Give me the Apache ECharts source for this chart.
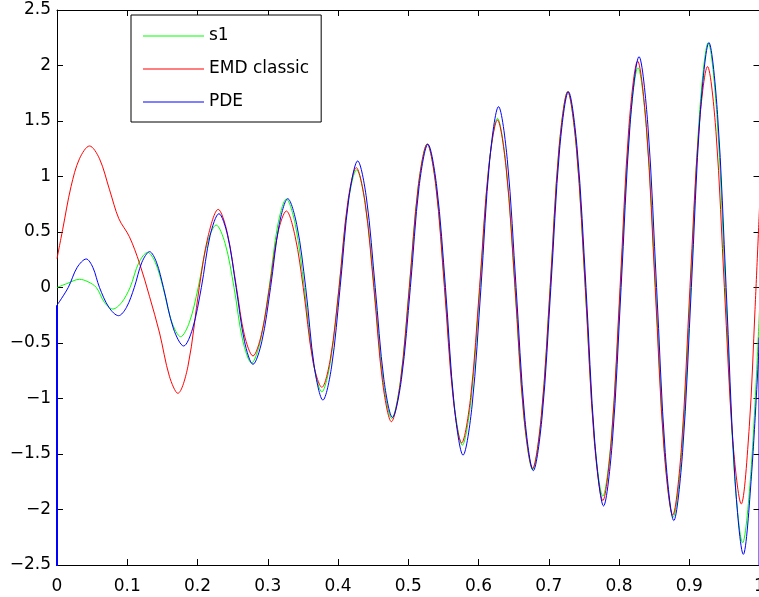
<!DOCTYPE html>
<html><head><meta charset="utf-8">
<script src="https://cdn.jsdelivr.net/npm/echarts@6/dist/echarts.min.js"></script>
<style>html,body{margin:0;padding:0;background:#fff;}#c{width:759px;height:597px;}</style>
</head><body><div id="c"></div>
<script>
// ---- data (extrema, zero crossings and shoulder points) ----
const s1X = [0,0.014,0.032,0.044,0.056,0.0678,0.0795,0.0918,0.104,0.1165,0.129,0.140,0.151,0.1635,0.176,0.1885,
  0.201,0.2138,0.2265,0.2393,0.252,0.2645,0.277,0.2895,0.302,0.3143,0.3265,0.3393,0.352,0.3645,0.377,0.3893,
  0.4015,0.414,0.4265,0.439,0.4515,0.464,0.4765,0.489,0.5015,0.5143,0.527,0.5395,0.552,0.5645,0.577,0.5895,
  0.602,0.6145,0.627,0.6395,0.652,0.6645,0.677,0.6895,0.702,0.7145,0.727,0.7395,0.752,0.7645,0.777,0.7895,
  0.802,0.8145,0.827,0.8395,0.852,0.8645,0.877,0.8895,0.902,0.9145,0.927,0.9393,0.9515,0.9638,0.976,0.988,1];
const s1Y = [0,0.035,0.074,0.052,0,-0.137,-0.194,-0.137,0,0.224,0.317,0.224,0,-0.313,-0.443,-0.313,
  0,0.398,0.563,0.398,0,-0.481,-0.68,-0.481,0,0.564,0.797,0.564,0,-0.665,-0.94,-0.665,
  0,0.749,1.06,0.749,0,-0.834,-1.18,-0.834,0,0.914,1.293,0.914,0,-1.004,-1.42,-1.004,
  0,1.078,1.524,1.078,0,-1.16,-1.64,-1.16,0,1.247,1.764,1.247,0,-1.329,-1.88,-1.329,
  0,1.40,1.98,1.40,0,-1.464,-2.07,-1.464,0,1.56,2.206,1.56,0,-1.626,-2.30,-1.64,-0.2];

const emdX = [0,0.008,0.020,0.032,0.0463,0.0605,0.0748,0.088,0.103,0.1175,0.1318,0.146,0.160,0.172,0.1864,0.2025,
  0.2151,0.2295,0.2419,0.2555,0.2667,0.279,0.2909,0.3025,0.3146,0.3265,0.3391,0.3505,0.3644,0.377,0.3893,0.4015,
  0.4138,0.426,0.4385,0.451,0.4635,0.476,0.4888,0.5015,0.5143,0.527,0.5393,0.5515,0.5638,0.576,0.5888,0.6015,
  0.6143,0.627,0.6395,0.652,0.6645,0.677,0.6895,0.702,0.7145,0.727,0.7395,0.752,0.7645,0.777,0.7893,0.8015,
  0.814,0.8265,0.839,0.8515,0.864,0.8765,0.8888,0.901,0.9135,0.926,0.938,0.950,0.962,0.974,0.9855,0.9936,1];
const emdY = [0.26,0.52,0.91,1.16,1.275,1.16,0.88,0.62,0.458,0.218,-0.083,-0.41,-0.80,-0.953,-0.71,0,
  0.462,0.704,0.507,0,-0.427,-0.617,-0.426,0,0.498,0.689,0.456,0,-0.666,-0.899,-0.636,0,
  0.764,1.08,0.764,0,-0.855,-1.209,-0.855,0,0.914,1.293,0.914,0,-0.99,-1.40,-0.99,0,
  1.067,1.509,1.067,0,-1.152,-1.63,-1.152,0,1.247,1.764,1.247,0,-1.357,-1.92,-1.357,0,
  1.442,2.04,1.442,0,-1.449,-2.05,-1.449,0,1.407,1.99,1.407,0,-1.379,-1.95,-1.25,-0.2,0.72];

const pdeX = [0,0.016,0.0288,0.0416,0.051,0.0605,0.074,0.0876,0.0988,0.110,0.1209,0.1318,0.1416,0.1515,0.1659,0.1803,
  0.1929,0.2055,0.218,0.2305,0.2428,0.255,0.267,0.279,0.2915,0.304,0.3163,0.3285,0.3413,0.354,0.3663,0.3785,
  0.3908,0.403,0.4155,0.428,0.4405,0.453,0.4653,0.4775,0.4903,0.503,0.5155,0.528,0.5405,0.553,0.5655,0.578,
  0.5908,0.6035,0.616,0.6285,0.641,0.6535,0.6658,0.678,0.6905,0.703,0.7155,0.728,0.7405,0.753,0.7655,0.778,
  0.7905,0.803,0.8158,0.8285,0.841,0.8535,0.8658,0.878,0.8905,0.903,0.9155,0.928,0.9403,0.9525,0.9648,0.977,0.9885,1];
const pdeY = [-0.16,0,0.182,0.257,0.182,0,-0.18,-0.254,-0.18,0,0.228,0.323,0.228,0,-0.373,-0.527,
  -0.373,0,0.47,0.665,0.47,0,-0.489,-0.692,-0.489,0,0.566,0.80,0.566,0,-0.717,-1.014,
  -0.717,0,0.806,1.14,0.806,0,-0.827,-1.17,-0.827,0,0.912,1.29,0.912,0,-1.068,-1.51,
  -1.068,0,1.152,1.629,1.152,0,-1.167,-1.65,-1.167,0,1.247,1.764,1.247,0,-1.391,-1.968,
  -1.391,0,1.471,2.08,1.471,0,-1.485,-2.10,-1.485,0,1.56,2.206,1.56,0,-1.70,-2.404,-1.70,-0.45];

// PDE's first and last samples fall far below the visible range
const pdeOffScale = -3;

const seriesNames = ['s1', 'EMD classic', 'PDE'];
const seriesColors = ['#00ff00', '#ff0000', '#0000ff'];
const xTickLabels = ['0','0.1','0.2','0.3','0.4','0.5','0.6','0.7','0.8','0.9','1'];
const yTickLabels = ['\u22122.5','\u22122','\u22121.5','\u22121','\u22120.5','0','0.5','1','1.5','2','2.5'];

// ---- chart ----
const FONT = 'DejaVu Sans';
const pairs = (xv, yv) => xv.map((x, i) => [x, yv[i]]);

const axisLineStyle = { show: true, onZero: false, lineStyle: { color: '#000', width: 1 } };
const tickStyle = { show: true, inside: true, length: 6, lineStyle: { color: '#000', width: 1 } };
const labelFont = { fontFamily: FONT, fontSize: 17, color: '#000' };

function xAxisDef(pos, showLabel) {
  return {
    type: 'value', position: pos, min: 0, max: 1, interval: 0.1,
    axisLine: axisLineStyle, axisTick: tickStyle, splitLine: { show: false },
    axisLabel: Object.assign({ show: showLabel, margin: 13,
      formatter: v => xTickLabels[Math.round(v * 10)] }, labelFont)
  };
}
function yAxisDef(pos, showLabel) {
  return {
    type: 'value', position: pos, min: -2.5, max: 2.5, interval: 0.5,
    axisLine: axisLineStyle, axisTick: tickStyle, splitLine: { show: false },
    axisLabel: Object.assign({ show: showLabel, margin: 6, padding: [5, 0, 0, 0],
      formatter: v => yTickLabels[Math.round((v + 2.5) * 2)] }, labelFont)
  };
}

function lineSeries(name, xv, yv, color) {
  return {
    name: name, type: 'line', data: pairs(xv, yv), smooth: 0.333,
    symbol: 'none', showSymbol: false,
    lineStyle: { color: color, width: 1 }, itemStyle: { color: color },
    xAxisIndex: 0, yAxisIndex: 0
  };
}

const lastPde = pdeX.length - 1;
const chart = echarts.init(document.getElementById('c'), null, { renderer: 'canvas' });
chart.setOption({
  animation: false,
  backgroundColor: '#fff',
  grid: { left: 57, top: 10, width: 702.5, height: 555, containLabel: false, outerBoundsMode: 'none' },
  xAxis: [xAxisDef('bottom', true), xAxisDef('top', false)],
  yAxis: [yAxisDef('left', true), yAxisDef('right', false)],
  legend: {
    data: seriesNames, orient: 'vertical', left: 131, top: 15,
    icon: 'rect',
    padding: [11, 12, 10, 12], itemGap: 13, itemWidth: 61, itemHeight: 1,
    borderColor: '#000', borderWidth: 1, backgroundColor: '#fff',
    selectedMode: false,
    textStyle: { fontFamily: FONT, fontSize: 17, color: '#000', lineHeight: 20 }
  },
  series: [
    lineSeries(seriesNames[0], s1X, s1Y, seriesColors[0]),
    lineSeries(seriesNames[1], emdX, emdY, seriesColors[1]),
    lineSeries(seriesNames[2], pdeX, pdeY, seriesColors[2]),
    { name: 'PDE start', type: 'line', symbol: 'none', smooth: false,
      data: [[pdeX[0], pdeY[0]], [pdeX[0], pdeOffScale]],
      lineStyle: { color: seriesColors[2], width: 2 }, xAxisIndex: 0, yAxisIndex: 0 },
    { name: 'PDE end', type: 'line', symbol: 'none', smooth: false,
      data: [[pdeX[lastPde], pdeY[lastPde]], [pdeX[lastPde], pdeOffScale]],
      lineStyle: { color: seriesColors[2], width: 2 }, xAxisIndex: 0, yAxisIndex: 0 }
  ]
});
</script>
</body></html>
